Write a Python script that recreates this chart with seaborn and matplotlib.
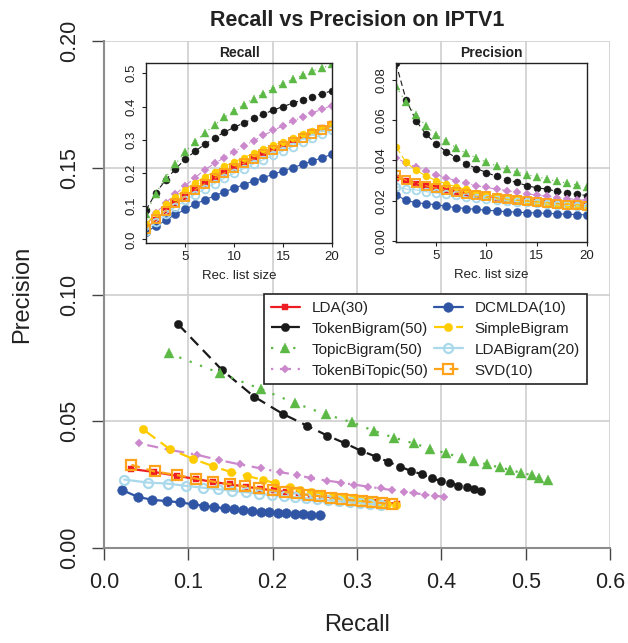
import matplotlib
matplotlib.use("Agg")
import matplotlib.pyplot as plt
import seaborn as sns

# ---------------- data ----------------
list_size = [1, 2, 3, 4, 5, 6, 7, 8, 9, 10, 11, 12, 13, 14, 15, 16, 17, 18, 19, 20]

series_names = ["LDA(30)", "TokenBigram(50)", "TopicBigram(50)", "TokenBiTopic(50)",
                "DCMLDA(10)", "SimpleBigram", "LDABigram(20)", "SVD(10)"]

lda_recall = [0.032, 0.059, 0.086, 0.109, 0.129, 0.149, 0.168, 0.185, 0.201, 0.216,
              0.231, 0.245, 0.259, 0.272, 0.285, 0.298, 0.311, 0.323, 0.335, 0.347]
lda_precision = [0.0312, 0.0300, 0.0285, 0.0272, 0.0261, 0.0251, 0.0242, 0.0234, 0.0227, 0.0221,
                 0.0215, 0.0209, 0.0204, 0.0199, 0.0194, 0.0190, 0.0186, 0.0182, 0.0178, 0.0175]

tokenbigram_recall = [0.088, 0.140, 0.178, 0.212, 0.241, 0.265, 0.286, 0.305, 0.323, 0.337,
                      0.351, 0.364, 0.377, 0.389, 0.400, 0.410, 0.420, 0.430, 0.439, 0.447]
tokenbigram_precision = [0.0882, 0.0702, 0.0597, 0.0529, 0.0482, 0.0443, 0.0413, 0.0383, 0.0360, 0.0340,
                         0.0321, 0.0304, 0.0291, 0.0275, 0.0264, 0.0258, 0.0246, 0.0239, 0.0233, 0.0225]

topicbigram_recall = [0.077, 0.138, 0.186, 0.227, 0.263, 0.294, 0.320, 0.344, 0.367, 0.387,
                      0.406, 0.424, 0.439, 0.454, 0.469, 0.482, 0.494, 0.507, 0.516, 0.527]
topicbigram_precision = [0.0768, 0.0689, 0.0627, 0.0571, 0.0527, 0.0496, 0.0462, 0.0435, 0.0413, 0.0391,
                         0.0374, 0.0356, 0.0343, 0.0330, 0.0318, 0.0308, 0.0297, 0.0288, 0.0277, 0.0268]

tokenbitopic_recall = [0.041, 0.078, 0.110, 0.136, 0.161, 0.186, 0.209, 0.229, 0.246, 0.264,
                       0.281, 0.297, 0.313, 0.328, 0.342, 0.356, 0.368, 0.381, 0.392, 0.403]
tokenbitopic_precision = [0.0413, 0.0387, 0.0368, 0.0347, 0.0330, 0.0314, 0.0299, 0.0288, 0.0275, 0.0266,
                          0.0258, 0.0250, 0.0242, 0.0235, 0.0228, 0.0222, 0.0216, 0.0211, 0.0206, 0.0202]

dcmlda_recall = [0.021, 0.040, 0.057, 0.075, 0.090, 0.106, 0.119, 0.131, 0.143, 0.154,
                 0.165, 0.176, 0.186, 0.196, 0.206, 0.216, 0.226, 0.236, 0.246, 0.256]
dcmlda_precision = [0.0229, 0.0202, 0.0190, 0.0185, 0.0180, 0.0172, 0.0166, 0.0161, 0.0157, 0.0153,
                    0.0149, 0.0146, 0.0143, 0.0141, 0.0139, 0.0137, 0.0135, 0.0133, 0.0131, 0.0130]

simplebigram_recall = [0.046, 0.078, 0.106, 0.129, 0.150, 0.170, 0.189, 0.203, 0.220, 0.233,
                       0.246, 0.259, 0.271, 0.283, 0.294, 0.305, 0.316, 0.326, 0.336, 0.346]
simplebigram_precision = [0.0469, 0.0390, 0.0351, 0.0323, 0.0300, 0.0284, 0.0268, 0.0256, 0.0240, 0.0230,
                          0.0222, 0.0214, 0.0207, 0.0200, 0.0194, 0.0189, 0.0184, 0.0179, 0.0175, 0.0171]

ldabigram_recall = [0.024, 0.052, 0.076, 0.097, 0.117, 0.135, 0.152, 0.168, 0.184, 0.199,
                    0.213, 0.227, 0.240, 0.253, 0.266, 0.279, 0.292, 0.304, 0.316, 0.328]
ldabigram_precision = [0.0270, 0.0258, 0.0254, 0.0245, 0.0238, 0.0232, 0.0226, 0.0220, 0.0214, 0.0209,
                       0.0204, 0.0200, 0.0196, 0.0192, 0.0188, 0.0184, 0.0180, 0.0177, 0.0174, 0.0171]

svd_recall = [0.0325, 0.060, 0.086, 0.109, 0.129, 0.149, 0.167, 0.184, 0.200, 0.215,
              0.229, 0.243, 0.256, 0.269, 0.282, 0.294, 0.306, 0.318, 0.330, 0.341]
svd_precision = [0.0328, 0.0302, 0.0288, 0.0274, 0.0262, 0.0252, 0.0243, 0.0235, 0.0227, 0.0221,
                 0.0215, 0.0209, 0.0204, 0.0199, 0.0194, 0.0189, 0.0185, 0.0181, 0.0177, 0.0173]

main_xticks = [0.0, 0.1, 0.2, 0.3, 0.4, 0.5, 0.6]
main_xticklabels = ["0.0", "0.1", "0.2", "0.3", "0.4", "0.5", "0.6"]
main_yticks = [0.00, 0.05, 0.10, 0.15, 0.20]
main_yticklabels = ["0.00", "0.05", "0.10", "0.15", "0.20"]
inset_xticks = [5, 10, 15, 20]
recall_yticks = [0.0, 0.1, 0.2, 0.3, 0.4, 0.5]
recall_yticklabels = ["0.0", "0.1", "0.2", "0.3", "0.4", "0.5"]
prec_yticks = [0.00, 0.02, 0.04, 0.06, 0.08]
prec_yticklabels = ["0.00", "0.02", "0.04", "0.06", "0.08"]

recalls = [lda_recall, tokenbigram_recall, topicbigram_recall, tokenbitopic_recall,
           dcmlda_recall, simplebigram_recall, ldabigram_recall, svd_recall]
precisions = [lda_precision, tokenbigram_precision, topicbigram_precision, tokenbitopic_precision,
              dcmlda_precision, simplebigram_precision, ldabigram_precision, svd_precision]

# ---------------- styles ----------------
styles = [
    dict(color="#EE1D23", marker="s", ls="-", ms=5.0, fill=True),
    dict(color="#1A1A1A", marker="o", ls=(0, (5, 3)), ms=6.0, fill=True),
    dict(color="#5DB946", marker="^", ls=(0, (1, 4)), ms=7.5, fill=True),
    dict(color="#CC88CC", marker="D", ls=(0, (1, 3, 5, 3)), ms=4.5, fill=True),
    dict(color="#2F55A4", marker="o", ls="-", ms=7.0, fill=True),
    dict(color="#FFCC00", marker="o", ls=(0, (7, 3)), ms=6.0, fill=True),
    dict(color="#A9D9EA", marker="o", ls="-", ms=6.5, fill=False),
    dict(color="#FFA31A", marker="s", ls=(0, (4, 3)), ms=6.5, fill=False),
]

sns.set_style("white")
plt.rcParams["font.family"] = ["Liberation Sans", "DejaVu Sans"]

W, H = 628, 643
fig = plt.figure(figsize=(W / 100, H / 100), dpi=100)


def rect(l, t, r, b):
    return [l / W, 1 - b / H, (r - l) / W, (b - t) / H]


ax = fig.add_axes(rect(104, 41, 610, 548))
ax.set_facecolor("white")


def draw(axis, xs, ys, st, scale, lw, label=None):
    kw = dict(color=st["color"], marker=st["marker"], linestyle=st["ls"],
              linewidth=lw, markersize=st["ms"] * scale,
              markeredgecolor=st["color"],
              markerfacecolor=st["color"] if st["fill"] else "none",
              markeredgewidth=(0.3 if st["fill"] else 1.6 * scale))
    sns.lineplot(x=xs, y=ys, ax=axis, sort=False, errorbar=None,
                 legend=False, label=label, **kw)


for name, xs, ys, st in zip(series_names, recalls, precisions, styles):
    draw(ax, xs, ys, st, 1.0, 1.6, label=name)

ax.set_xlim(0, 0.6)
ax.set_ylim(0, 0.2)
ax.set_xticks(main_xticks)
ax.set_xticklabels(main_xticklabels)
ax.set_yticks(main_yticks)
ax.set_yticklabels(main_yticklabels, rotation=90, va="center")
ax.grid(True, color="#d2d2d2", lw=1.3)
ax.set_axisbelow(True)
for s in ["top", "right"]:
    ax.spines[s].set_visible(False)
for s in ["left", "bottom"]:
    ax.spines[s].set_color("#8c8c8c")
    ax.spines[s].set_linewidth(1.5)
ax.tick_params(axis="both", direction="out", length=8.5, width=1.0, color="#444444",
               labelsize=15.5, labelcolor="#222222", pad=9, bottom=True, left=True)
ax.set_xlabel("Recall", fontsize=17, color="#222222", va="center")
ax.set_ylabel("Precision", fontsize=17, color="#222222", va="center")
ax.xaxis.set_label_coords(0.5, (548 - 625) / 507)
ax.yaxis.set_label_coords((22 - 104) / 506, 0.5)

fig.text(357 / W, 1 - 26 / H, "Recall vs Precision on IPTV1", ha="center", va="baseline",
         fontsize=15.5, fontweight="bold", color="#222222")

leg = ax.legend(loc="upper left", bbox_to_anchor=((264 - 104) / 506, (548 - 294) / 507),
                ncol=2, fontsize=11, frameon=True, fancybox=False, edgecolor="#222222",
                framealpha=1, borderpad=0.45, handlelength=1.9, handletextpad=0.8,
                columnspacing=0.3, labelspacing=0.45, borderaxespad=0, numpoints=1)
leg.get_frame().set_linewidth(1.2)
for t in leg.get_texts():
    t.set_color("#222222")

# ---------------- insets ----------------
ax_r = fig.add_axes(rect(146, 63, 332, 243))
ax_p = fig.add_axes(rect(396, 63, 587, 242))

for name, xs, ys, st in zip(series_names, recalls, precisions, styles):
    draw(ax_r, list_size, xs, st, 0.85, 0.8)
    draw(ax_p, list_size, ys, st, 0.85, 0.8)

ax_r.set_ylim(-0.011, 0.531)
ax_r.set_yticks(recall_yticks)
ax_r.set_yticklabels(recall_yticklabels, rotation=90, va="center")
ax_p.set_ylim(-0.0005, 0.0884)
ax_p.set_yticks(prec_yticks)
ax_p.set_yticklabels(prec_yticklabels, rotation=90, va="center")

for a, title in [(ax_r, "Recall"), (ax_p, "Precision")]:
    a.set_facecolor("none")
    a.set_xlim(1, 20)
    a.set_xticks(inset_xticks)
    a.grid(False)
    for s in a.spines.values():
        s.set_color("#222222")
        s.set_linewidth(1.0)
        s.set_visible(True)
    a.tick_params(axis="both", direction="out", length=3, width=0.8, color="#222222",
                  labelsize=9.5, labelcolor="#222222", pad=3, bottom=True, left=True)
    a.set_xlabel("")
    a.set_ylabel("")
    a.text(0.5, -0.2017, "Rec. list size", transform=a.transAxes, ha="center",
           va="baseline", fontsize=9.5, color="#222222")
    a.text(0.5, 1.032, title, transform=a.transAxes, ha="center", va="baseline",
           fontsize=10, fontweight="bold", color="#222222")

fig.savefig("out.png", dpi=100, facecolor="white")
